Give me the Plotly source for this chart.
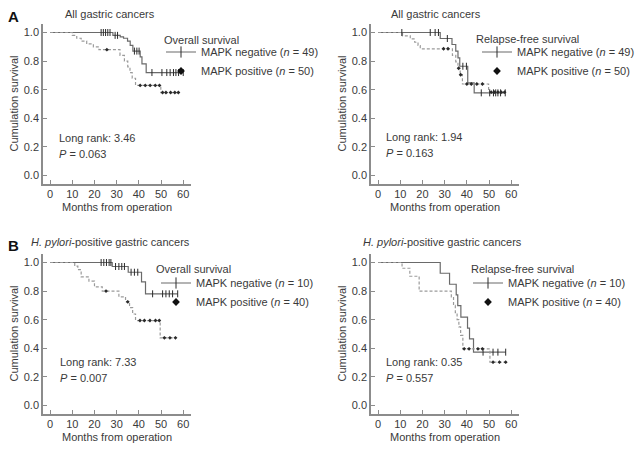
import numpy as np
import plotly.graph_objects as go
from plotly.subplots import make_subplots

# the page body has an 8px margin, so the figure is drawn 8px smaller and every
# reference pixel position is shifted by that amount
PAD = 8
W, H = 644 - PAD, 450 - PAD

# ---- data (months, cumulative survival) ----
# A, left: all gastric cancers, overall survival
a_os_neg_t = [0, 28.3, 31.6, 33.1, 34.9, 36.1, 37.3, 40.6, 41.4, 43.3]
a_os_neg_s = [1.0, 0.98, 0.97, 0.96, 0.94, 0.91, 0.87, 0.83, 0.78, 0.72]
a_os_neg_cens = [23, 24, 25, 26, 27, 29.3, 30.4, 38, 39.1, 40.1, 45.9, 50.4, 52.6, 54.1, 55.6, 56.7, 57.9, 60]
a_os_pos_t = [0, 10, 12, 14, 16.5, 19.5, 22, 31.5, 33.5, 35, 36, 37, 38.5, 49.9]
a_os_pos_s = [1.0, 0.98, 0.96, 0.94, 0.92, 0.90, 0.88, 0.84, 0.80, 0.76, 0.72, 0.68, 0.63, 0.58]
a_os_pos_cens = [25.6, 40.6, 42.9, 45.1, 47.4, 49.3, 50.7, 52.2, 54.3, 56.2, 57.8]

# A, right: all gastric cancers, relapse-free survival
a_rfs_neg_t = [0, 28.0, 33.3, 35.0, 36.0, 36.8, 40.4, 43.3]
a_rfs_neg_s = [1.0, 0.958, 0.916, 0.87, 0.823, 0.764, 0.648, 0.578]
a_rfs_neg_cens = [10.7, 23.5, 25.7, 27.2, 31.2, 38.2, 39.8, 46.5, 50.3, 52.0, 53.0, 54.0, 55.2, 57.3]
a_rfs_pos_t = [0, 11, 14.5, 16.5, 18, 19, 33.5, 35, 36, 37, 38, 49.8]
a_rfs_pos_s = [1.0, 0.977, 0.955, 0.932, 0.909, 0.886, 0.84, 0.795, 0.75, 0.705, 0.64, 0.583]
a_rfs_pos_cens = [29.5, 31.5, 36.3, 37.2, 40, 42, 44.5, 47, 51, 52.5, 54, 55.5, 57]

# B, left: H. pylori-positive, overall survival
b_os_neg_t = [0, 28, 35.2, 41.2, 43]
b_os_neg_s = [1.0, 0.972, 0.932, 0.865, 0.781]
b_os_neg_cens = [23, 24.2, 25.4, 26.6, 27.4, 29.5, 31, 32.3, 33.5, 36.5, 38, 39.5, 46.2, 50.7, 52.2, 53.7, 55.2, 57.5]
b_os_pos_t = [0, 11.1, 12.5, 14, 17.5, 20, 23.5, 31, 34, 35.8, 37.2, 38.5, 49.6]
b_os_pos_s = [1.0, 0.975, 0.95, 0.9, 0.87, 0.83, 0.8, 0.76, 0.725, 0.685, 0.64, 0.594, 0.473]
b_os_pos_cens = [25.2, 35, 40.5, 42.5, 45, 47.5, 49.2, 51.5, 54, 56.5]

# B, right: H. pylori-positive, relapse-free survival
b_rfs_neg_t = [0, 28, 32.2, 35.2, 35.9, 37.3, 40.3, 41.2, 43]
b_rfs_neg_s = [1.0, 0.925, 0.848, 0.773, 0.699, 0.618, 0.541, 0.466, 0.373]
b_rfs_neg_cens = [47.3, 51.8, 54, 57.5]
b_rfs_pos_t = [0, 10.8, 14.3, 18.5, 33, 34, 34.8, 35.6, 36.4, 37.2, 38.2, 50.4]
b_rfs_pos_s = [1.0, 0.96, 0.904, 0.80, 0.76, 0.70, 0.65, 0.60, 0.55, 0.49, 0.396, 0.303]
b_rfs_pos_cens = [38.8, 41, 45, 47, 51.8, 54.7, 57.5]

panel_titles = ["All gastric cancers", "All gastric cancers",
                "<i>H. pylori</i>-positive gastric cancers", "<i>H. pylori</i>-positive gastric cancers"]
legend_titles = ["Overall survival", "Relapse-free survival", "Overall survival", "Relapse-free survival"]
neg_names = ["MAPK negative (<i>n</i> = 49)", "MAPK negative (<i>n</i> = 49)",
             "MAPK negative (<i>n</i> = 10)", "MAPK negative (<i>n</i> = 10)"]
pos_names = ["MAPK positive (<i>n</i> = 50)", "MAPK positive (<i>n</i> = 50)",
             "MAPK positive (<i>n</i> = 40)", "MAPK positive (<i>n</i> = 40)"]
log_rank = ["3.46", "1.94", "7.33", "0.35"]
p_values = ["0.063", "0.163", "0.007", "0.557"]

x_ticks = [0, 10, 20, 30, 40, 50, 60]
y_ticks = [0.0, 0.2, 0.4, 0.6, 0.8, 1.0]

panels = [
    (a_os_neg_t, a_os_neg_s, a_os_neg_cens, a_os_pos_t, a_os_pos_s, a_os_pos_cens),
    (a_rfs_neg_t, a_rfs_neg_s, a_rfs_neg_cens, a_rfs_pos_t, a_rfs_pos_s, a_rfs_pos_cens),
    (b_os_neg_t, b_os_neg_s, b_os_neg_cens, b_os_pos_t, b_os_pos_s, b_os_pos_cens),
    (b_rfs_neg_t, b_rfs_neg_s, b_rfs_neg_cens, b_rfs_pos_t, b_rfs_pos_s, b_rfs_pos_cens),
]

FONT = "Tahoma, 'Liberation Sans', Arial, sans-serif"
TXT = "#3a3a3a"
AX = "#8c8c8c"
NEG_COL = "#6a6a6a"
POS_COL = "#9a9a9a"
MARK = "#2a2a2a"


def step_curve(t, s, cens):
    end = max(t[-1], max(cens) if cens else t[-1])
    return list(t) + [end], list(s) + [s[-1]]


def surv_at(t, s, x):
    idx = np.searchsorted(np.asarray(t), np.asarray(x), side="right") - 1
    return np.asarray(s)[idx]


def px_x(px):
    return (px - PAD) / W


def px_y(py):
    return 1 - (py - PAD) / H


fig = make_subplots(rows=2, cols=2)
legend_ids = ["legend", "legend2", "legend3", "legend4"]

for i, (nt, ns, nc, pt, ps, pc) in enumerate(panels):
    row, col = i // 2 + 1, i % 2 + 1
    lg = legend_ids[i]

    x, y = step_curve(nt, ns, nc)
    fig.add_trace(go.Scatter(x=x, y=y, mode="lines", line=dict(color=NEG_COL, width=1.2, shape="hv"),
                             showlegend=False, hoverinfo="skip"), row=row, col=col)
    x, y = step_curve(pt, ps, pc)
    fig.add_trace(go.Scatter(x=x, y=y, mode="lines",
                             line=dict(color=POS_COL, width=1.2, shape="hv", dash="3px,2px"),
                             showlegend=False, hoverinfo="skip"), row=row, col=col)

    fig.add_trace(go.Scatter(x=nc, y=surv_at(nt, ns, nc), mode="markers",
                             marker=dict(symbol="line-ns-open", size=5, color=MARK,
                                         line=dict(color=MARK, width=1)),
                             showlegend=False, hoverinfo="skip"), row=row, col=col)
    fig.add_trace(go.Scatter(x=pc, y=surv_at(pt, ps, pc), mode="markers",
                             marker=dict(symbol="diamond", size=3, color=MARK),
                             showlegend=False, hoverinfo="skip"), row=row, col=col)

    # legend entries
    fig.add_trace(go.Scatter(x=[None], y=[None], mode="lines+markers", name=neg_names[i],
                             line=dict(color=NEG_COL, width=1.2),
                             marker=dict(symbol="line-ns-open", size=8, color=MARK,
                                         line=dict(color=MARK, width=1)),
                             legend=lg), row=row, col=col)
    fig.add_trace(go.Scatter(x=[None], y=[None], mode="markers", name=pos_names[i],
                             marker=dict(symbol="diamond", size=6, color="#111111"),
                             legend=lg), row=row, col=col)

axis_common = dict(showline=True, linecolor=AX, linewidth=1.5, ticks="inside", ticklen=4,
                   tickcolor=AX, tickwidth=1.2, showgrid=False, zeroline=False,
                   tickfont=dict(size=11, color=TXT), title_font=dict(size=11, color=TXT))

col_dom = [[px_x(43), px_x(191)], [px_x(371), px_x(519)]]
row_dom = [[px_y(183.5), px_y(23.5)], [px_y(413.5), px_y(253.5)]]

for i in range(4):
    row, col = i // 2 + 1, i % 2 + 1
    fig.update_xaxes(axis_common, range=[-3.2, 63.5], tickvals=x_ticks, domain=col_dom[col - 1],
                     title_text="Months from operation", title_standoff=4, row=row, col=col)
    fig.update_yaxes(axis_common, range=[-0.056, 1.063], tickvals=y_ticks, tickformat=".1f",
                     domain=row_dom[row - 1], title_text="Cumulation survival", title_standoff=3,
                     row=row, col=col)

annotations = []


def ann(text, px, py, size=11, xanchor="left", color=TXT):
    annotations.append(dict(text=text, x=px_x(px), y=px_y(py), xref="paper", yref="paper",
                            xanchor=xanchor, yanchor="middle", showarrow=False, borderpad=0,
                            font=dict(size=size, color=color, family=FONT)))


# panel letters and titles
ann("<b>A</b>", 7, 16.5, size=15, color="#111111")
ann("<b>B</b>", 7, 245, size=15, color="#111111")
title_pos = [(109.5, 14), (436, 14), (110.5, 242), (442, 242)]
legend_title_pos = [(163, 40), (475, 39), (155, 269), (470, 269)]
stat_pos = [(58, 138), (385, 137), (59, 362), (385, 362)]
legend_pos = [(161, 37.5), (477, 37.5), (156, 268.5), (468, 268.5)]

for i in range(4):
    ann(panel_titles[i], title_pos[i][0], title_pos[i][1], xanchor="center")
    ann(legend_titles[i], legend_title_pos[i][0], legend_title_pos[i][1])
    ann("Long rank: " + log_rank[i], stat_pos[i][0], stat_pos[i][1])
    ann("<i>P</i> = " + p_values[i], stat_pos[i][0], stat_pos[i][1] + 16)

legend_common = dict(xanchor="left", yanchor="top", bgcolor="rgba(0,0,0,0)", borderwidth=0,
                     font=dict(size=11, color=TXT, family=FONT), tracegroupgap=0, itemwidth=30)
legends = {}
for i, lg in enumerate(legend_ids):
    legends[lg] = dict(legend_common, x=px_x(legend_pos[i][0]), y=px_y(legend_pos[i][1]))

fig.update_layout(
    width=W,
    height=H,
    margin=dict(l=0, r=0, t=0, b=0),
    paper_bgcolor="white",
    plot_bgcolor="white",
    font=dict(family=FONT, size=11, color=TXT),
    annotations=annotations,
    **legends,
)

fig.write_html("out.html")
